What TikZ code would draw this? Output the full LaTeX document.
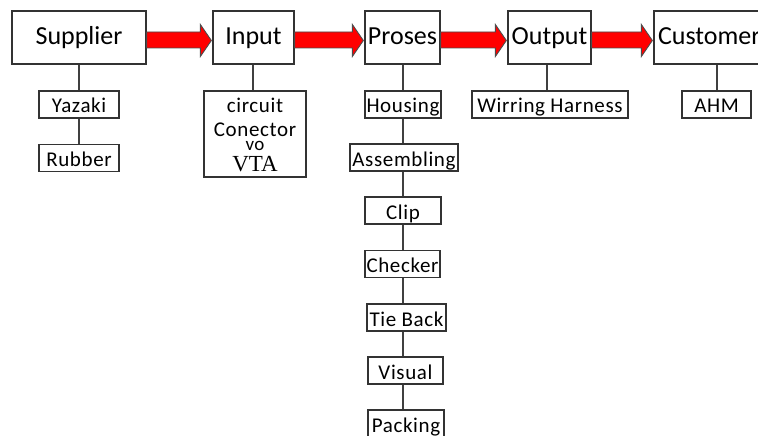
\documentclass[tikz,border=0pt]{standalone}
\usepackage{fontspec}
\setmainfont{Carlito}
\newfontfamily\subfont{Carlito}[LetterSpace=3]
\newfontfamily\vtafont{Liberation Serif}
\usetikzlibrary{calc}
\begin{document}
\begin{tikzpicture}[x=1pt,y=-1pt,
  mainbox/.style={draw=black!80,line width=1.3pt,minimum height=53pt,inner sep=0pt,text height=13.5pt,text depth=0pt,font=\fontsize{26}{30}\selectfont},
  subbox/.style={draw=black!80,line width=1.3pt,minimum height=27pt,inner sep=0pt,text height=17pt,text depth=0pt,font=\subfont\fontsize{21}{24}\selectfont},
  conn/.style={draw=black!75,line width=1.3pt},
  redarrow/.style={fill=red,draw=black!70,line width=0.9pt,line join=miter},
  intext/.style={inner sep=0pt,anchor=base,font=\subfont\fontsize{21}{24}\selectfont}]
\useasboundingbox (0,0) rectangle (758,436);
\clip (0,0) rectangle (758,436);
% main boxes
\node[mainbox,minimum width=134pt] (sup) at (79,37.5) {Supplier};
\node[mainbox,minimum width=81pt] (inp) at (253.5,37.5) {Input};
\node[mainbox,minimum width=75pt] (pro) at (402.5,37.5) {Proses};
\node[mainbox,minimum width=83pt] (out) at (549.5,37.5) {Output};
\node[mainbox,minimum width=126pt,text width=118pt,align=left,inner xsep=4pt] (cus) at (717,37.5) {Customer};
% red arrows
\foreach \a/\b in {sup/inp,inp/pro,pro/out,out/cus}{
  \draw[redarrow] ($(\a.east)+(0,-5.5)$) -- ($(\b.west)+(-12,-5.5)$) -- ($(\b.west)+(-12,-13)$)
     -- ($(\b.west)+(-1,3)$) -- ($(\b.west)+(-12,19)$) -- ($(\b.west)+(-12,10.5)$) -- ($(\a.east)+(0,10.5)$) -- cycle;
}
% supplier branch
\node[subbox,minimum width=80pt] (yaz) at (79,104.5) {Yazaki};
\node[subbox,minimum width=80pt] (rub) at (79,158) {Rubber};
\draw[conn] (sup.south) -- (yaz.north);
\draw[conn] (yaz.south) -- (rub.north);
% input branch
\node[draw=black!80,line width=1.3pt,minimum width=102pt,minimum height=86pt,inner sep=0pt] (cir) at (255,134) {};
\node[intext] (t1) at (255,112) {circuit};
\node[intext] (t2) at (255,136) {Conector};
\node[intext,font=\subfont\fontsize{19}{22}\selectfont] (t3) at (255,150) {vo};
\node[inner sep=0pt,anchor=base,font=\vtafont\fontsize{23}{26}\selectfont] (t4) at (255,171.5) {VTA};
\draw[conn] (inp.south -| 253,0) -- (cir.north -| 253,0);
% proses branch
\node[subbox,minimum width=76pt] (hou) at (403,104.5) {Housing};
\node[subbox,minimum width=108pt] (ass) at (404,157.5) {Assembling};
\node[subbox,minimum width=76pt] (cli) at (403,210.5) {Clip};
\node[subbox,minimum width=75pt] (che) at (402.5,264) {Checker};
\node[subbox,minimum width=79pt] (tie) at (406.5,317.5) {Tie Back};
\node[subbox,minimum width=75pt] (vis) at (405.5,370.5) {Visual};
\node[subbox,minimum width=76pt] (pac) at (406,423.5) {Packing};
\draw[conn] (pro.south -| 403,0) -- (hou.north -| 403,0);
\draw[conn] (hou.south -| 403,0) -- (ass.north -| 403,0);
\draw[conn] (ass.south -| 403,0) -- (cli.north -| 403,0);
\draw[conn] (cli.south -| 403,0) -- (che.north -| 403,0);
\draw[conn] (che.south -| 403,0) -- (tie.north -| 403,0);
\draw[conn] (tie.south -| 403,0) -- (vis.north -| 403,0);
\draw[conn] (vis.south -| 403,0) -- (pac.north -| 403,0);
% output branch
\node[subbox,minimum width=156pt] (wir) at (550,104.5) {Wirring Harness};
\draw[conn] (out.south -| 547,0) -- (wir.north -| 547,0);
% customer branch
\node[subbox,minimum width=69pt] (ahm) at (716.5,104.5) {AHM};
\draw[conn] (cus.south -| 717,0) -- (ahm.north -| 717,0);
\end{tikzpicture}
\end{document}
